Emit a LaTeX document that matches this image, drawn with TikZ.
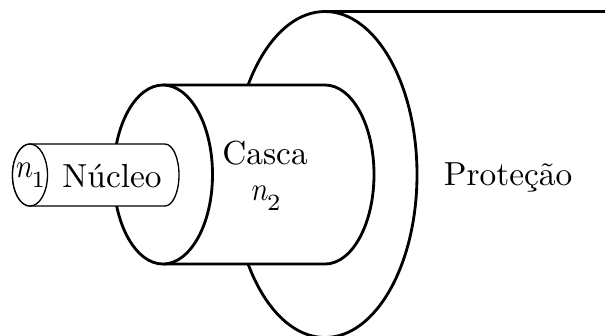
\documentclass[tikz,border=0pt]{standalone}
\newcommand{\nsub}[1]{\scalebox{0.85}[1]{$n$}\kern-0.4pt\raisebox{-3pt}{$\scriptstyle #1$}}
\begin{document}
\begin{tikzpicture}[x=0.3pt,y=-0.3pt,
  thickline/.style={draw=black,line width=0.85pt,fill=white},
  thinline/.style={draw=black,line width=0.4pt,fill=white},
  label/.style={inner sep=0pt,anchor=base}]
\useasboundingbox (0,0) rectangle (605,335);
\clip (0,0) rectangle (605,335);
% Protecao
\draw[thickline] (325,11.5) arc[start angle=-90,end angle=270,x radius=92,y radius=163];
\coordinate (ptop) at (325,11.5);
\coordinate (pend) at (605,11.5);
\draw[thickline] (ptop) -- (pend);
% Casca
\draw[thickline] (163,85) -- (325,85) arc[start angle=-90,end angle=90,x radius=49,y radius=89.5] -- (163,264);
\draw[thickline] (163,85) arc[start angle=-90,end angle=270,x radius=49.5,y radius=89.5];
\draw[line width=0.85pt] (163,85) -- (325,85) (163,264) -- (325,264);
% Nucleo
\draw[thinline] (30,144) -- (165,144) arc[start angle=-90,end angle=90,x radius=14,y radius=31] -- (30,206) arc[start angle=90,end angle=270,x radius=17.5,y radius=31];
\draw[thinline] (30,175) ellipse[x radius=17.5,y radius=31];
% Text
\node[label] (n1) at (30.5,177) {\nsub{1}};
\node[label] (nucleo) at (112,187) {N\'ucleo};
\node[label] (casca) at (265,164) {Casca};
\node[label] (n2) at (266,200) {\nsub{2}};
\node[label] (protecao) at (508,185) {Prote\c{c}\~ao};
\end{tikzpicture}
\end{document}
